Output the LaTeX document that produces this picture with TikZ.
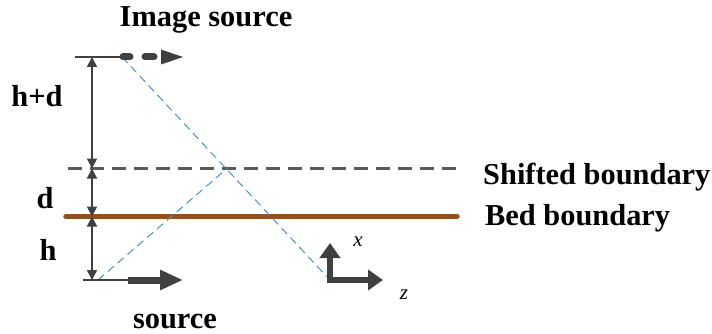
\documentclass[tikz,border=0pt]{standalone}
\usepackage{fontspec}
\setmainfont{Liberation Serif}[BoldFont={Liberation Serif Bold},ItalicFont={Liberation Serif Italic}]
\usetikzlibrary{arrows.meta}
\definecolor{dk}{HTML}{404040}
\definecolor{brownline}{HTML}{94501C}
\definecolor{rayblue}{HTML}{4A8FC8}
\definecolor{shiftgray}{HTML}{5A5A5A}
\begin{document}
\begin{tikzpicture}[x=1pt,y=-1pt,
  lbl/.style={font=\fontsize{30.4}{34}\selectfont\bfseries, inner sep=0pt, anchor=base},
  axlbl/.style={font=\fontsize{21}{24}\selectfont\itshape, inner sep=0pt, anchor=base},
  dim/.style={draw=dk, line width=1.6pt, {Triangle[length=10pt,width=10pt]}-{Triangle[length=10pt,width=10pt]}},
  thinln/.style={draw=dk, line width=1.6pt},
  ray/.style={draw=rayblue, line width=1pt, dash pattern=on 8pt off 5pt},
  srcarrow/.style={draw=dk, line width=7pt, -{Triangle[length=23pt,width=19pt]}},
  axis/.style={draw=dk, line width=6pt, miter limit=10, {Triangle[length=15pt,width=20pt]}-{Triangle[length=15pt,width=20pt]}}
]
\path[use as bounding box] (0,0) rectangle (712,334);

% key points
\coordinate (top) at (92,57);
\coordinate (sh) at (92,168.5);
\coordinate (bed) at (92,216.5);
\coordinate (bot) at (92,280);
\coordinate (imgL) at (75,57);
\coordinate (img) at (122,57);
\coordinate (srcL) at (83,280);
\coordinate (src) at (98,280);
\coordinate (srcA) at (128,280);
\coordinate (srcT) at (183,280);
\coordinate (cross) at (227,168.5);
\coordinate (origin) at (330,280);
\coordinate (xtip) at (330,243);
\coordinate (ztip) at (383,280);
\coordinate (shL) at (68,168.5);
\coordinate (shR) at (460,168.5);
\coordinate (bedL) at (66,216.5);
\coordinate (bedR) at (457,216.5);

% boundaries
\draw[shiftgray, line width=2.4pt, dash pattern=on 14pt off 8pt] (shL) -- (shR);
\draw[brownline, line width=5.5pt, line cap=round] (bedL) -- (bedR);

% rays
\draw[ray] (img) -- (origin);
\draw[ray] (src) -- (cross);

% reference lines
\draw[thinln] (imgL) -- (img);
\draw[thinln] (srcL) -- (srcA);

% image source (dashed arrow)
\draw[dk, line width=7pt, line cap=round] (123,57) -- (130,57);
\draw[dk, line width=7pt, line cap=round] (145,57) -- (154,57);
\fill[dk] (161,49.5) -- (183,57) -- (161,64.5) -- cycle;

% source arrow
\draw[srcarrow] (srcA) -- (srcT);

% dimension arrows
\draw[dim] (top) -- (sh);
\draw[dim] (sh) -- (bed);
\draw[dim] (bed) -- (bot);

% axes
\draw[axis] (xtip) -- (origin) -- (ztip);

% labels
\node[lbl] (limg) at (206,27) {Image source};
\node[lbl] (lsrc) at (175,328) {source};
\node[lbl] (lhd) at (37,107) {h+d};
\node[lbl] (ld) at (45,208) {d};
\node[lbl] (lh) at (48,260) {h};
\node[lbl, anchor=base west] (lshift) at (483,184) {Shifted boundary};
\node[lbl, anchor=base west] (lbed) at (485,225) {Bed boundary};
\node[axlbl] (lx) at (358,246) {x};
\node[axlbl] (lz) at (404,299) {z};
\end{tikzpicture}
\end{document}
